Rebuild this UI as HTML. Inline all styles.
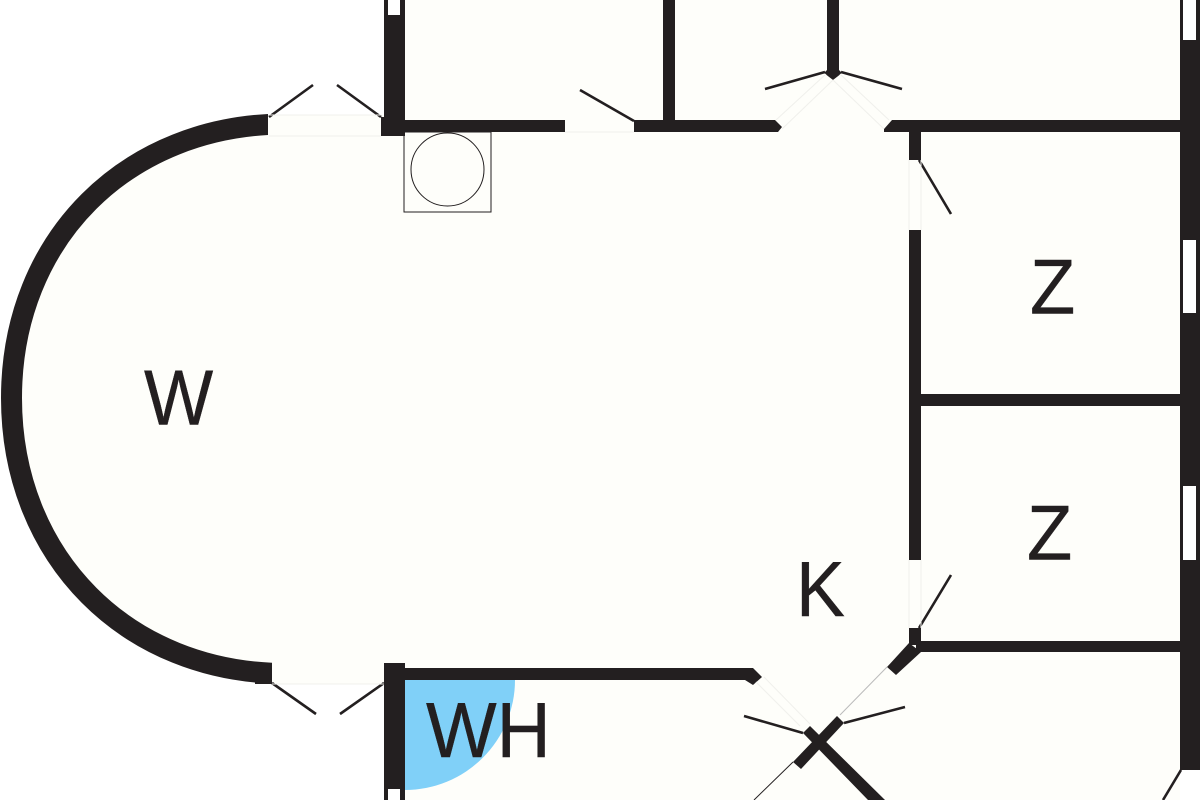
<!DOCTYPE html>
<html>
<head>
<meta charset="utf-8">
<style>
html,body{margin:0;padding:0;background:#fff;}
svg{display:block;}
text{font-family:"Liberation Sans",sans-serif;font-size:78px;fill:#231f20;stroke:#231f20;stroke-width:.4;}
</style>
</head>
<body>
<svg width="1200" height="800" viewBox="0 0 1200 800" xmlns="http://www.w3.org/2000/svg">
<defs>
<clipPath id="arcclip"><path d="M0 0H268V400H272V800H0Z"/></clipPath>
</defs>
<rect width="1200" height="800" fill="#fefefa"/>
<path d="M0 0H384V115H268V124C127 124 11.5 239 11.5 398C11.5 557 127 673.5 268 673.5V684H384V800H0Z" fill="#fff"/>
<rect x="1180" y="770" width="20" height="30" fill="#fff"/>
<path d="M405 680H515A110 110 0 0 1 405 790Z" fill="#80d0f8"/>
<path d="M286 124C127 124 11.5 239 11.5 398C11.5 557 127 673.5 286 673.5" fill="none" stroke="#231f20" stroke-width="21" clip-path="url(#arcclip)"/>
<g fill="#231f20">
<rect x="255" y="663" width="17" height="21"/>
<rect x="384" y="0" width="21" height="136"/>
<rect x="381" y="117" width="24" height="19"/>
<rect x="405" y="120" width="160" height="12"/>
<path d="M634 120H775L782 127L778 132H634Z"/>
<rect x="663" y="0" width="12" height="120"/>
<path d="M827 0H839V70L842 73L833 80L824 73L827 70Z"/>
<path d="M892 120H1180V132H884V129Z"/>
<rect x="909" y="132" width="12" height="28"/>
<rect x="909" y="230" width="12" height="330"/>
<rect x="921" y="394" width="259" height="12"/>
<rect x="909" y="628" width="12" height="17"/>
<rect x="916" y="641" width="264" height="11"/>
<path d="M909 643L921 652L896 675L887 667Z"/>
<path d="M405 668H753L762 677L753 685L745 680H405Z"/>
<rect x="384" y="663" width="21" height="137"/>
<path d="M837 716L844 723L801 769L793 762Z"/>
<path d="M810 726L885 800H868L803 733Z"/>
<rect x="1180" y="0" width="20" height="770"/>
</g>
<g fill="#fff">
<rect x="388" y="0" width="12" height="15"/>
<rect x="388" y="789" width="12" height="11"/>
<rect x="1183" y="0" width="13" height="40"/>
<rect x="1183" y="240" width="13" height="73"/>
<rect x="1183" y="486" width="13" height="74"/>
</g>
<g stroke="#231f20" stroke-width="2.6" fill="none">
<path d="M269 117L313 85M381 117L337 85"/>
<path d="M580 90L634 121"/>
<path d="M825 72L765 89M841 72L902 89"/>
<path d="M919 160L951 214M919 628L951 575"/>
<path d="M272 683L316 714M384 683L340 714"/>
<path d="M803 733L744 716M844 723L905 707"/>
<path d="M1181 770L1163 800"/>
</g>
<g stroke="#231f20" fill="none" stroke-width="1">
<rect x="404" y="132" width="87" height="80"/>
<circle cx="447.5" cy="169.5" r="36.5"/>
<path d="M793 762L754 800"/>
</g>
<g stroke="#f0f0ec" fill="none" stroke-width="1">
<path d="M269 115H381M269 136H381"/>
<path d="M565 132H634"/>
<path d="M776 120L826 74M782 129L833 80M889 120L840 74M884 129L833 80"/>
<path d="M909 160V230M921 160V230M909 560V628M921 560V628"/>
<path d="M272 684H384"/>
<path d="M756 682L800 726M764 677L810 724"/>
</g>
<path d="M887 667L840 715" stroke="#bbb" fill="none" stroke-width="1"/>
<text transform="translate(144 424.5) scale(.94 1)">W</text>
<text transform="translate(426 757) scale(.96 1)">WH</text>
<text transform="translate(796 616) scale(.94 1)">K</text>
<text transform="translate(1030 313.5) scale(.95 1)">Z</text>
<text transform="translate(1027 559.5) scale(.95 1)">Z</text>
</svg>
</body>
</html>
